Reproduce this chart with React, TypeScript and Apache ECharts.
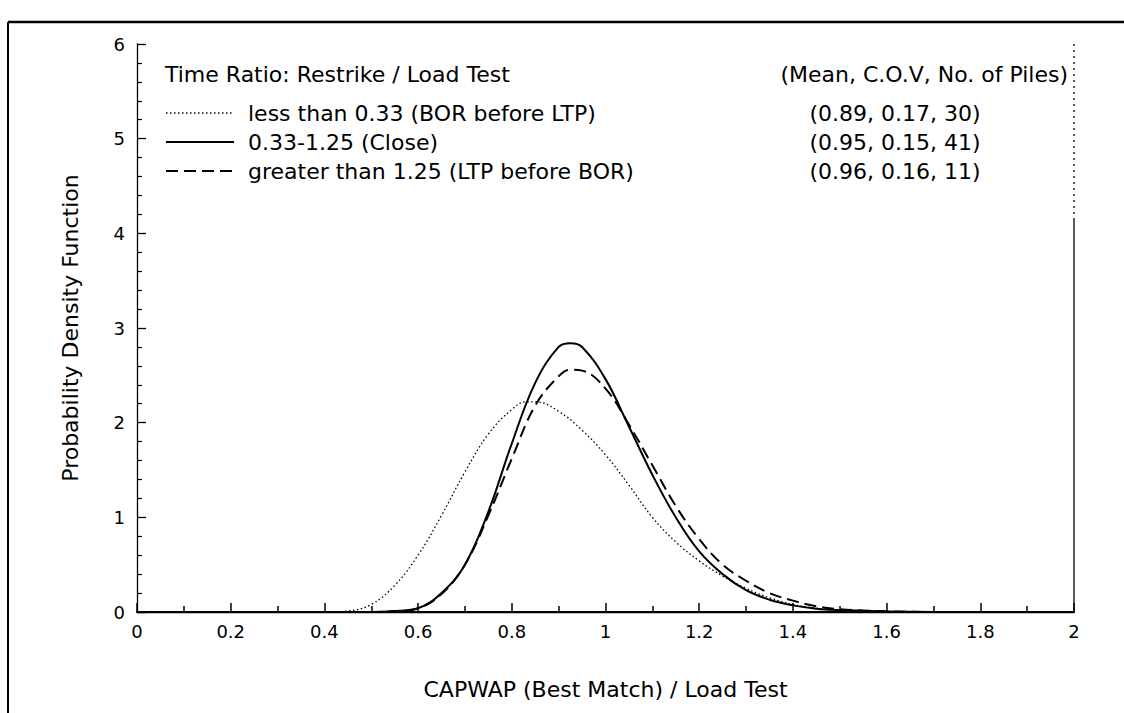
import React, { useEffect, useRef } from "react";
import * as echarts from "echarts";

const seriesNames = [
  "less than 0.33 (BOR before LTP)",
  "0.33-1.25 (Close)",
  "greater than 1.25 (LTP before BOR)",
];
const statsHeader = "(Mean, C.O.V, No. of Piles)";
const statsLabels = ["(0.89, 0.17, 30)", "(0.95, 0.15, 41)", "(0.96, 0.16, 11)"];
const legendTitle = "Time Ratio: Restrike / Load Test";
const xAxisTitle = "CAPWAP (Best Match) / Load Test";
const yAxisTitle = "Probability Density Function";

const dottedX = [0, 0.4, 0.45, 0.5, 0.55, 0.6, 0.65, 0.7, 0.75, 0.8, 0.83, 0.85, 0.9, 0.95, 1.0, 1.05, 1.1, 1.15, 1.2, 1.25, 1.3, 1.35, 1.4, 1.45, 1.5, 1.6, 2.0];
const dottedY = [0, 0, 0.01, 0.08, 0.28, 0.6, 1.02, 1.48, 1.88, 2.14, 2.22, 2.22, 2.12, 1.92, 1.66, 1.34, 1.0, 0.74, 0.54, 0.38, 0.25, 0.15, 0.08, 0.04, 0.02, 0, 0];

const solidX = [0, 0.5, 0.55, 0.6, 0.65, 0.7, 0.75, 0.8, 0.85, 0.9, 0.925, 0.95, 1.0, 1.05, 1.1, 1.15, 1.2, 1.25, 1.3, 1.35, 1.4, 1.45, 1.5, 1.6, 1.7, 2.0];
const solidY = [0, 0, 0.01, 0.04, 0.2, 0.5, 1.06, 1.78, 2.42, 2.8, 2.84, 2.8, 2.46, 1.96, 1.45, 1.0, 0.64, 0.4, 0.23, 0.13, 0.07, 0.035, 0.02, 0.005, 0, 0];

const dashedX = [0, 0.5, 0.55, 0.6, 0.65, 0.7, 0.75, 0.8, 0.85, 0.9, 0.925, 0.95, 1.0, 1.05, 1.1, 1.15, 1.2, 1.25, 1.3, 1.35, 1.4, 1.45, 1.5, 1.55, 1.6, 1.7, 2.0];
const dashedY = [0, 0, 0.01, 0.04, 0.19, 0.5, 1.02, 1.62, 2.18, 2.49, 2.56, 2.55, 2.36, 1.98, 1.55, 1.12, 0.77, 0.5, 0.33, 0.2, 0.12, 0.06, 0.03, 0.015, 0.008, 0, 0];

const pairs = (xs: number[], ys: number[]) => xs.map((x, i) => [x, ys[i]]);

const FONT = "'DejaVu Sans', 'Liberation Sans', Arial, sans-serif";
const BIG = 22;

export default function App() {
  const ref = useRef<HTMLDivElement>(null);
  useEffect(() => {
    if (!ref.current) return;
    const chart = echarts.init(ref.current, null, { renderer: "svg" });
    const lineStyles = [
      { color: "#000", width: 1.3, type: [1.5, 2.5] },
      { color: "#000", width: 2, type: "solid" },
      { color: "#000", width: 2, type: [12, 6] },
    ];
    const datas = [pairs(dottedX, dottedY), pairs(solidX, solidY), pairs(dashedX, dashedY)];
    const rowY = [113, 142, 171];
    chart.setOption({
      animation: false,
      backgroundColor: "#fff",
      textStyle: { fontFamily: FONT, color: "#000" },
      grid: { left: 137, right: 50, top: 44, bottom: 101, containLabel: false },
      xAxis: [
        {
          type: "value",
          min: 0,
          max: 2,
          interval: 0.2,
          name: xAxisTitle,
          nameLocation: "middle",
          nameGap: 66,
          nameTextStyle: { fontSize: BIG, color: "#000", fontFamily: FONT },
          axisLine: { show: true, lineStyle: { color: "#000", width: 2.2 } },
          axisTick: { show: true, inside: true, length: 9, lineStyle: { color: "#000", width: 1.5 } },
          minorTick: { show: true, splitNumber: 2, length: 6, lineStyle: { color: "#000", width: 1.5 } },
          splitLine: { show: false },
          axisLabel: {
            fontSize: 18,
            color: "#000",
            margin: 10,
            fontFamily: FONT,
            formatter: (v: number) => String(Math.round(v * 10) / 10),
          },
        },
        {
          type: "value",
          position: "top",
          min: 0,
          max: 2,
          interval: 0.2,
          axisLine: { show: true, lineStyle: { color: "#000", width: 1.3 } },
          axisTick: { show: false },
          axisLabel: { show: false },
          splitLine: { show: false },
        },
      ],
      yAxis: [
        {
          type: "value",
          min: 0,
          max: 6,
          interval: 1,
          name: yAxisTitle,
          nameLocation: "middle",
          nameGap: 56,
          nameTextStyle: { fontSize: BIG, color: "#000", fontFamily: FONT },
          axisLine: { show: true, lineStyle: { color: "#000", width: 1.3 } },
          axisTick: { show: true, inside: true, length: 9, lineStyle: { color: "#000", width: 1.3 } },
          minorTick: { show: true, splitNumber: 5, length: 5, lineStyle: { color: "#000", width: 1.2 } },
          splitLine: { show: false },
          axisLabel: { fontSize: 18, color: "#000", margin: 12, fontFamily: FONT },
        },
        {
          type: "value",
          position: "right",
          min: 0,
          max: 6,
          interval: 1,
          axisLine: { show: false },
          axisTick: { show: false },
          axisLabel: { show: false },
          splitLine: { show: false },
        },
      ],
      series: seriesNames.map((name, i) => ({
        name,
        type: "line",
        xAxisIndex: 0,
        yAxisIndex: 0,
        data: datas[i],
        showSymbol: false,
        symbol: "none",
        smooth: 0.4,
        lineStyle: lineStyles[i],
        itemStyle: { color: "#000" },
        z: 3 - i,
      })),
      graphic: [
        { type: "line", shape: { x1: 8, y1: 22, x2: 1124, y2: 22 }, style: { stroke: "#000", lineWidth: 2.5 } },
        { type: "line", shape: { x1: 8, y1: 22, x2: 8, y2: 713 }, style: { stroke: "#000", lineWidth: 2 } },
        { type: "line", shape: { x1: 1074, y1: 44, x2: 1074, y2: 220 }, style: { stroke: "#000", lineWidth: 1.3, lineDash: [2, 4] } },
        { type: "line", shape: { x1: 1074, y1: 220, x2: 1074, y2: 612 }, style: { stroke: "#000", lineWidth: 1.3 } },
        {
          type: "text",
          x: 165,
          y: 74,
          style: { text: legendTitle, fontSize: BIG, fill: "#000", fontFamily: FONT, verticalAlign: "middle", align: "left" },
        },
        {
          type: "text",
          x: 1068,
          y: 74,
          style: { text: statsHeader, fontSize: BIG, fill: "#000", fontFamily: FONT, verticalAlign: "middle", align: "right" },
        },
        ...statsLabels.map((t, i) => ({
          type: "text",
          x: 895,
          y: rowY[i],
          style: { text: t, fontSize: BIG, fill: "#000", fontFamily: FONT, verticalAlign: "middle", align: "center" },
        })),
        ...seriesNames.map((t, i) => ({
          type: "text",
          x: 248,
          y: rowY[i],
          style: { text: t, fontSize: BIG, fill: "#000", fontFamily: FONT, verticalAlign: "middle", align: "left" },
        })),
        ...[0, 1, 2].map((i) => ({
          type: "line",
          shape: { x1: 166, y1: rowY[i], x2: 234, y2: rowY[i] },
          style: {
            stroke: "#000",
            lineWidth: lineStyles[i].width,
            lineDash: i === 0 ? [1.5, 2.5] : i === 2 ? [12, 6] : null,
          },
        })),
      ],
    });
    return () => chart.dispose();
  }, []);
  return (
    <div
      ref={ref}
      style={{ position: "fixed", left: 0, top: 0, width: 1124, height: 713, background: "#fff" }}
    />
  );
}
